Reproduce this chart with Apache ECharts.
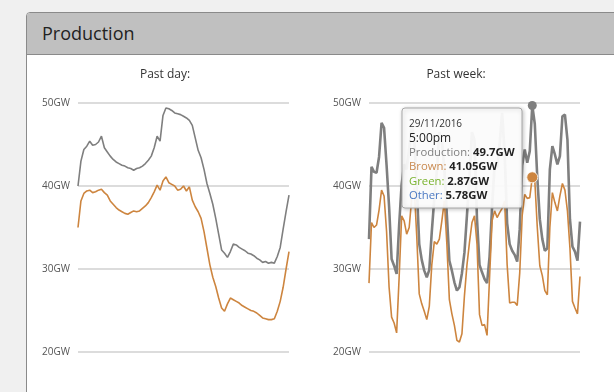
<!DOCTYPE html>
<html>
<head>
<meta charset="utf-8">
<script src="https://cdn.jsdelivr.net/npm/echarts@6/dist/echarts.min.js"></script>
<style>
  html, body { margin: 0; padding: 0; width: 614px; height: 392px; overflow: hidden; background: #f0f0f0; font-family: 'Open Sans', sans-serif; }
  #panel { position: absolute; left: 26px; top: 12px; width: 640px; height: 420px; border: 1px solid #8a8a8a; border-radius: 4px 0 0 0; background: #fff; box-sizing: border-box; }
  #panel .hd { height: 41px; line-height: 40px; background: #c0c0c0; border-bottom: 1px solid #8a8a8a; padding-left: 15px; font-size: 18px; color: #222; border-radius: 3px 0 0 0; }
  #chart { position: absolute; left: 0; top: 0; width: 614px; height: 392px; }
</style>
</head>
<body>
<div id="panel"><div class="hd">Production</div></div>
<div id="chart"></div>
<script>
// ---------- data ----------
const yTicks = [20, 30, 40, 50];

// Past day (20-minute steps)
const dayProduction = [
  40.0,43.0,44.4,44.8,45.4,44.9,45.0,45.3,46.0,44.6,
  44.1,43.6,43.2,42.9,42.7,42.5,42.4,42.2,42.1,41.9,
  42.1,42.2,42.4,42.7,43.1,43.6,44.6,46.0,45.4,48.5,
  49.4,49.3,49.1,48.8,48.7,48.6,48.4,48.2,47.9,47.3,
  45.8,44.3,43.4,42.0,40.3,39.1,37.8,36.1,34.2,32.3,
  31.9,31.4,32.1,33.0,32.9,32.6,32.4,32.2,31.9,31.8,
  31.6,31.3,31.1,30.8,30.9,30.7,30.8,30.7,31.5,32.6,
  34.8,36.9,38.9
];
const dayBrown = [
  35.0,38.2,39.1,39.4,39.5,39.2,39.3,39.5,39.6,39.2,
  38.9,38.2,37.8,37.4,37.1,36.9,36.7,36.6,36.8,37.0,
  36.9,37.0,37.3,37.6,38.0,38.6,39.3,40.1,39.5,40.6,
  41.1,40.4,40.2,40.0,39.5,39.6,40.0,39.4,39.9,38.3,
  37.5,36.9,36.1,34.5,32.5,30.5,29.0,27.9,26.5,25.3,
  24.9,25.8,26.5,26.3,26.1,25.9,25.6,25.4,25.2,25.0,
  24.9,24.7,24.4,24.1,24.0,23.9,23.9,24.0,24.9,26.1,
  27.8,30.0,32.1
];

// Past week (2-hour steps, 24/11/2016 7:00am .. 1/12/2016 7:00am)
const weekProduction = [
  33.6,42.3,41.7,41.6,43.5,47.6,47.0,42.5,37.5,31.2,
  30.4,29.4,35.3,40.2,42.6,42.0,44.5,47.2,45.8,40.0,
  33.0,31.1,29.8,29.0,29.9,34.5,38.5,41.8,46.5,45.5,
  42.0,36.5,31.0,29.8,28.4,27.4,27.8,29.5,32.0,36.5,
  41.0,46.5,45.5,36.0,30.5,29.6,28.8,28.3,31.5,37.5,
  42.5,42.2,45.0,48.8,44.0,35.5,33.0,32.2,31.7,30.9,
  34.8,42.5,44.4,42.8,44.2,49.7,47.5,41.0,36.0,33.6,
  32.2,32.5,42.0,44.8,43.8,42.6,43.6,48.4,48.6,45.6,
  36.0,32.7,32.1,31.0,35.7
];
const weekBrown = [
  28.3,35.6,35.0,35.3,37.1,39.5,38.8,34.5,27.8,24.2,
  23.5,22.3,29.0,36.4,35.8,34.2,35.0,38.5,39.8,34.0,
  27.0,25.8,24.9,23.9,25.5,30.5,33.3,33.0,33.6,35.8,
  38.2,33.0,26.3,24.6,23.2,21.4,21.2,22.2,26.8,30.5,
  33.2,35.6,36.4,33.0,24.5,23.2,23.3,22.0,29.0,35.8,
  37.0,36.2,36.8,37.3,38.2,30.5,25.9,26.0,26.0,25.6,
  29.5,36.5,39.0,38.5,38.6,41.05,40.7,35.0,30.4,29.2,
  27.4,26.9,35.0,39.2,38.0,37.0,38.8,40.3,39.5,37.0,
  32.5,26.1,25.3,24.6,29.1
];

// hovered point (tooltip)
const hoverIndex = 65;
const hoverGreen = 2.87;
const hoverOther = 5.78;

// category labels
function pad(n) { return (n < 10 ? '0' : '') + n; }
const dayCategories = [];
for (let i = 0; i < dayProduction.length; i++) {
  const m = i * 20;
  dayCategories.push(pad(Math.floor(m / 60) % 24) + ':' + pad(m % 60));
}
const weekCategories = [];
{
  const start = new Date(2016, 10, 24, 7, 0);
  for (let i = 0; i < weekProduction.length; i++) {
    const d = new Date(start.getTime() + i * 2 * 3600 * 1000);
    let h = d.getHours(); const ap = h >= 12 ? 'pm' : 'am'; h = h % 12; if (h === 0) h = 12;
    weekCategories.push(d.getDate() + '/' + (d.getMonth() + 1) + '/' + d.getFullYear() + ' ' + h + ':' + pad(d.getMinutes()) + ap);
  }
}

// ---------- chart ----------
const GRAY = '#7f7f7f', BROWN = '#cd853f';
const FONT = 'Open Sans';
const chart = echarts.init(document.getElementById('chart'), null, { renderer: 'canvas' });

function yAxis(gi) {
  return {
    type: 'value', gridIndex: gi, min: yTicks[0], max: yTicks[yTicks.length - 1], interval: 10,
    axisLine: { show: false }, axisTick: { show: false },
    axisLabel: { formatter: '{value}GW', color: '#555', fontSize: 10, fontFamily: FONT, margin: 8 },
    splitLine: { lineStyle: { color: '#dcdcdc', width: 2 } }
  };
}
function xAxis(gi, cats) {
  return {
    type: 'category', gridIndex: gi, data: cats, boundaryGap: false,
    axisLine: { show: false }, axisTick: { show: false }, axisLabel: { show: false }, splitLine: { show: false }
  };
}

const hv = weekCategories[hoverIndex].split(' ');
const hoverDate = hv[0].split('/').map((s, k) => k < 2 ? pad(+s) : s).join('/');
const hoverTime = hv[1];

chart.setOption({
  animation: false,
  textStyle: { fontFamily: FONT },
  grid: [
    { left: 78, top: 103, width: 211, height: 249 },
    { left: 369, top: 103, width: 211, height: 249 }
  ],
  xAxis: [xAxis(0, dayCategories), xAxis(1, weekCategories)],
  yAxis: [yAxis(0), yAxis(1)],
  series: [
    { name: 'Production', type: 'line', xAxisIndex: 0, yAxisIndex: 0, data: dayProduction, symbol: 'none',
      lineStyle: { color: GRAY, width: 1.6 }, itemStyle: { color: GRAY } },
    { name: 'Brown', type: 'line', xAxisIndex: 0, yAxisIndex: 0, data: dayBrown, symbol: 'none',
      lineStyle: { color: BROWN, width: 1.6 }, itemStyle: { color: BROWN } },
    { name: 'Production', type: 'line', xAxisIndex: 1, yAxisIndex: 1, data: weekProduction, symbol: 'none',
      lineStyle: { color: GRAY, width: 2.6 }, itemStyle: { color: GRAY },
      markPoint: { symbol: 'circle', symbolSize: 9, label: { show: false },
        itemStyle: { color: GRAY },
        data: [{ coord: [hoverIndex, weekProduction[hoverIndex]] }] } },
    { name: 'Brown', type: 'line', xAxisIndex: 1, yAxisIndex: 1, data: weekBrown, symbol: 'none',
      lineStyle: { color: BROWN, width: 1.6 }, itemStyle: { color: BROWN },
      markPoint: { symbol: 'circle', symbolSize: 11, label: { show: false },
        itemStyle: { color: BROWN, borderColor: 'rgba(255,255,255,0.8)', borderWidth: 1 },
        data: [{ coord: [hoverIndex, weekBrown[hoverIndex]] }] } }
  ],
  graphic: [
    { type: 'text', x: 165, y: 75, z: 50, style: { text: 'Past day:', fill: '#333', font: '12px "Open Sans"', textAlign: 'center', textVerticalAlign: 'middle' } },
    { type: 'text', x: 456, y: 75, z: 50, style: { text: 'Past week:', fill: '#333', font: '12px "Open Sans"', textAlign: 'center', textVerticalAlign: 'middle' } },
    { type: 'rect', z: 100, shape: { x: 402, y: 108, width: 120, height: 100, r: 3 },
      style: { fill: 'rgba(255,255,255,0.93)', stroke: '#a8a8a8', lineWidth: 1,
        shadowBlur: 4, shadowColor: 'rgba(0,0,0,0.25)', shadowOffsetX: 1, shadowOffsetY: 1 } },
    { type: 'text', z: 101, x: 409, y: 117, style: {
        text: '{d|' + hoverDate + '}\n{t|' + hoverTime + '}\n' +
              '{pl|Production: }{v|' + weekProduction[hoverIndex] + 'GW}\n' +
              '{bl|Brown: }{v|' + weekBrown[hoverIndex] + 'GW}\n' +
              '{gl|Green: }{v|' + hoverGreen + 'GW}\n' +
              '{ol|Other: }{v|' + hoverOther + 'GW}',
        rich: {
          d: { fontSize: 10, fontFamily: FONT, fill: '#333', lineHeight: 14 },
          t: { fontSize: 12, fontFamily: FONT, fill: '#222', lineHeight: 14.5 },
          pl: { fontSize: 11.3, fontFamily: FONT, fill: '#808080', lineHeight: 14.5 },
          bl: { fontSize: 11.3, fontFamily: FONT, fill: '#c98a50', lineHeight: 14.5 },
          gl: { fontSize: 11.3, fontFamily: FONT, fill: '#7ab32e', lineHeight: 14.5 },
          ol: { fontSize: 11.3, fontFamily: FONT, fill: '#4a78c2', lineHeight: 14.5 },
          v: { fontSize: 11.3, fontFamily: FONT, fill: '#222', fontWeight: 'bold', lineHeight: 14.5 }
        }
      } }
  ]
});
</script>
</body>
</html>
